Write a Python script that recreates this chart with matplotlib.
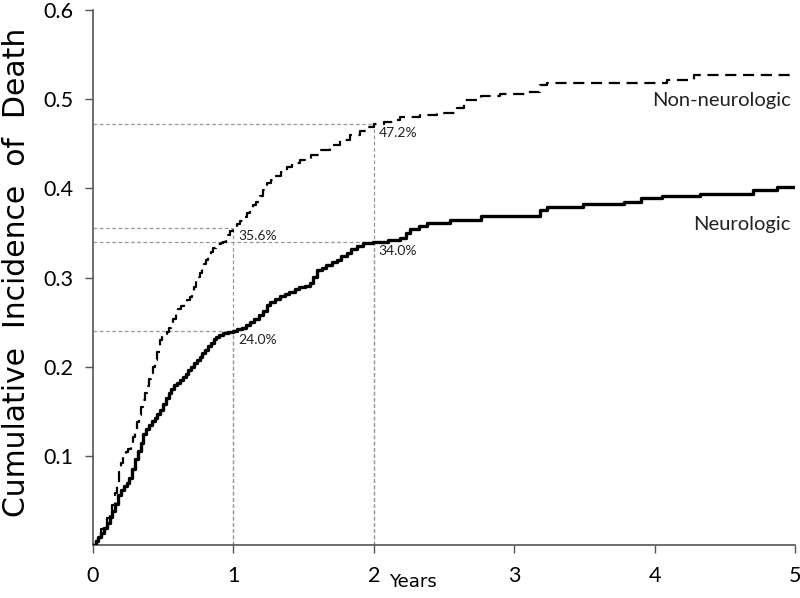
import matplotlib.pyplot as plt

# cumulative incidence, neurologic death (solid): (years, value)
neuroPoints = [
    (0, 0), (0.02, 0.004), (0.04, 0.009), (0.06, 0.014), (0.08, 0.019), (0.10, 0.025), (0.12, 0.031),
    (0.14, 0.038), (0.16, 0.046), (0.18, 0.056), (0.20, 0.062), (0.22, 0.066), (0.24, 0.070), (0.26, 0.075),
    (0.28, 0.085), (0.30, 0.097), (0.32, 0.106), (0.34, 0.115), (0.36, 0.124), (0.38, 0.130), (0.40, 0.135),
    (0.42, 0.139), (0.44, 0.143), (0.46, 0.147), (0.48, 0.151), (0.50, 0.158), (0.52, 0.165), (0.54, 0.171),
    (0.56, 0.175), (0.58, 0.179), (0.60, 0.182), (0.62, 0.185), (0.64, 0.188), (0.66, 0.192), (0.68, 0.196),
    (0.70, 0.200), (0.72, 0.204), (0.74, 0.208), (0.76, 0.211), (0.78, 0.215), (0.80, 0.219), (0.82, 0.223),
    (0.84, 0.227), (0.86, 0.231), (0.88, 0.233), (0.90, 0.236), (0.93, 0.238), (0.96, 0.239), (1.0, 0.240),
    (1.03, 0.242), (1.06, 0.244), (1.09, 0.247), (1.118, 0.250), (1.15, 0.253), (1.18, 0.258), (1.21, 0.263),
    (1.24, 0.269), (1.26, 0.273), (1.30, 0.276), (1.33, 0.279), (1.37, 0.282), (1.40, 0.284), (1.44, 0.287),
    (1.47, 0.289), (1.51, 0.291), (1.545, 0.294), (1.57, 0.301), (1.593, 0.308), (1.63, 0.311), (1.66, 0.314),
    (1.70, 0.317), (1.736, 0.320), (1.77, 0.324), (1.81, 0.328), (1.84, 0.332), (1.878, 0.336), (1.92, 0.339),
    (1.995, 0.340), (2.10, 0.342), (2.19, 0.344), (2.23, 0.350), (2.26, 0.355), (2.32, 0.358), (2.38, 0.361),
    (2.54, 0.3645), (2.76, 0.369), (3.18, 0.3757), (3.23, 0.379), (3.49, 0.382), (3.78, 0.385), (3.90, 0.389),
    (4.05, 0.391), (4.32, 0.394), (4.70, 0.398), (4.87, 0.402), (5.0, 0.402),
]

# cumulative incidence, non-neurologic death (dashed): (years, value)
nonNeuroPoints = [
    (0, 0), (0.02, 0.005), (0.04, 0.011), (0.06, 0.018), (0.08, 0.024), (0.10, 0.030), (0.12, 0.037),
    (0.14, 0.045), (0.155, 0.058), (0.17, 0.070), (0.185, 0.082), (0.20, 0.092), (0.216, 0.099),
    (0.235, 0.104), (0.25, 0.108), (0.27, 0.114), (0.287, 0.121), (0.30, 0.129), (0.315, 0.138),
    (0.33, 0.146), (0.345, 0.155), (0.358, 0.163), (0.37, 0.170), (0.385, 0.178), (0.40, 0.186),
    (0.415, 0.193), (0.43, 0.200), (0.445, 0.208), (0.46, 0.217), (0.477, 0.230), (0.49, 0.234),
    (0.505, 0.237), (0.525, 0.239), (0.54, 0.243), (0.555, 0.248), (0.57, 0.253), (0.59, 0.259),
    (0.608, 0.265), (0.63, 0.268), (0.65, 0.271), (0.67, 0.275), (0.69, 0.278), (0.705, 0.284),
    (0.72, 0.290), (0.735, 0.296), (0.75, 0.301), (0.762, 0.305), (0.775, 0.310), (0.79, 0.315),
    (0.805, 0.320), (0.82, 0.325), (0.84, 0.329), (0.857, 0.333), (0.875, 0.336), (0.89, 0.338),
    (0.91, 0.339), (0.928, 0.340), (0.945, 0.344), (0.96, 0.348), (0.98, 0.352), (1.0, 0.356),
    (1.025, 0.360), (1.05, 0.364), (1.07, 0.368), (1.095, 0.372), (1.118, 0.376), (1.14, 0.381),
    (1.16, 0.385), (1.19, 0.392), (1.213, 0.398), (1.237, 0.4056), (1.27, 0.409), (1.30, 0.414),
    (1.34, 0.419), (1.38, 0.424), (1.42, 0.428), (1.474, 0.432), (1.55, 0.438), (1.617, 0.443),
    (1.69, 0.449), (1.76, 0.454), (1.83, 0.460), (1.90, 0.465), (1.95, 0.469), (2.0, 0.472),
    (2.07, 0.474), (2.14, 0.4766), (2.19, 0.480), (2.33, 0.482), (2.45, 0.485), (2.59, 0.490),
    (2.64, 0.499), (2.76, 0.5035), (2.90, 0.5065), (3.09, 0.508), (3.18, 0.516), (3.23, 0.5185),
    (4.09, 0.5215), (4.28, 0.527), (5.0, 0.527),
]

# marked values at 1 and 2 years
markYears = [1, 1, 2, 2]
markValues = [0.240, 0.356, 0.340, 0.472]
markLabels = ["24.0%", "35.6%", "34.0%", "47.2%"]

xTicks = [0, 1, 2, 3, 4, 5]
xTickLabels = ["0", "1", "2", "3", "4", "5"]
yTicks = [0.1, 0.2, 0.3, 0.4, 0.5, 0.6]
yTickLabels = ["0.1", "0.2", "0.3", "0.4", "0.5", "0.6"]

neuroYears = [p[0] for p in neuroPoints]
neuroValues = [p[1] for p in neuroPoints]
nonNeuroYears = [p[0] for p in nonNeuroPoints]
nonNeuroValues = [p[1] for p in nonNeuroPoints]

plt.rcParams["font.family"] = ["Lato", "DejaVu Sans"]

fig = plt.figure(figsize=[8, 5.98], dpi=100)
ax = fig.add_axes([0.116, 0.0886, 0.878, 0.8944])

for x, y, lab in zip(markYears, markValues, markLabels):
    ax.plot([0, x], [y, y], color="#999999", lw=0.9, ls=(0, (3, 2)), zorder=1)
    ax.plot([x, x], [0, y], color="#999999", lw=0.9, ls=(0, (3, 2)), zorder=1)
    ax.text(x + 0.035, y - 0.003, lab, fontsize=10, ha="left", va="top", color="#222222")

ax.plot(nonNeuroYears, nonNeuroValues, drawstyle="steps-post", color="black", lw=1.6,
        ls=(0, (5, 3)), zorder=3)
ax.plot(neuroYears, neuroValues, drawstyle="steps-post", color="black", lw=2.4, zorder=3)

ax.text(4.97, 0.499, "Non-neurologic", fontsize=14.5, ha="right", va="center", color="#222222")
ax.text(4.97, 0.359, "Neurologic", fontsize=14.5, ha="right", va="center", color="#222222")

ax.set_xlim(0, 5)
ax.set_ylim(0, 0.6)
ax.set_xticks(xTicks)
ax.set_xticklabels(xTickLabels)
ax.set_yticks(yTicks)
ax.set_yticklabels(yTickLabels)
ax.tick_params(axis="both", direction="out", length=6, width=1, color="#555555", labelsize=15.5)
ax.tick_params(axis="x", pad=9)
ax.tick_params(axis="y", pad=8)

for side in ["top", "right"]:
    ax.spines[side].set_visible(False)
for side in ["left", "bottom"]:
    ax.spines[side].set_color("#555555")
    ax.spines[side].set_linewidth(1.2)

ax.set_ylabel("Cumulative  Incidence  of  Death", fontsize=21.5, family=["DejaVu Sans"])
ax.yaxis.set_label_coords(-0.088, 0.51)
fig.text(413 / 800, 1 - 582 / 598, "Years", fontsize=13, ha="center", va="center",
         family=["DejaVu Sans"])

fig.savefig("out.png", dpi=100)
